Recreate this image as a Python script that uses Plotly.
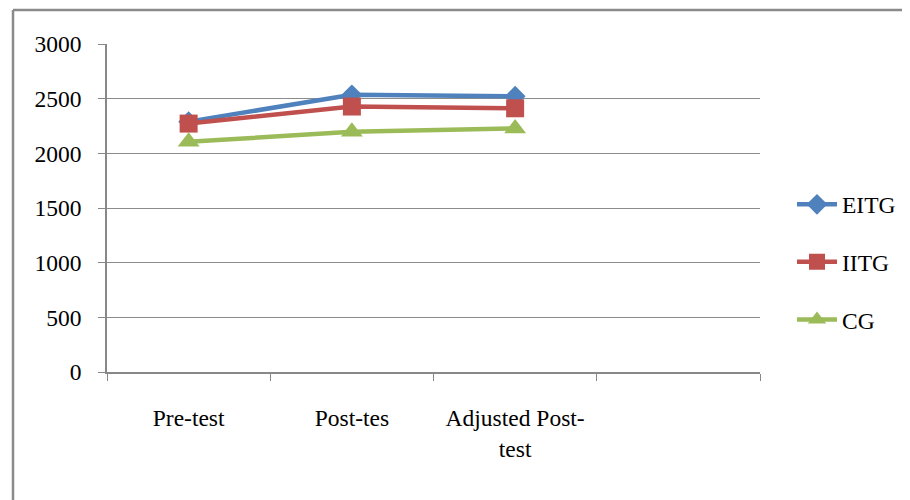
import plotly.graph_objects as go

categories = ["Pre-test", "Post-tes", "Adjusted Post-<br>test", " "]
eitg = [2290, 2535, 2522]
iitg = [2272, 2428, 2412]
cg = [2105, 2198, 2228]
y_ticks = [0, 500, 1000, 1500, 2000, 2500, 3000]

# page body has an 8px margin, so figure coords = page coords - 8
OFF = 8
W, H = 910, 500
L, T = 107 - OFF, 44 - OFF
pw, ph = 653, 328
R = W - L - pw
B = H - T - ph

def px(x):
    return (x - OFF - L) / pw

def py(y):
    return (T + ph - (y - OFF)) / ph

font = dict(family="Liberation Serif, Times New Roman, serif", size=23.5, color="#000000")

fig = go.Figure()
series = [
    ("EITG", eitg, "#4F81BD", "diamond", 16),
    ("IITG", iitg, "#C0504D", "square", 18),
    ("CG", cg, "#9BBB59", "triangle-up", 19),
]
for name, vals, col, sym, sz in series:
    fig.add_trace(go.Scatter(
        x=categories[:len(vals)], y=vals, name=name, mode="lines+markers",
        line=dict(color=col, width=4.5),
        marker=dict(symbol=sym, size=sz, color=col),
        legendgroup=name,
    ))

fig.update_layout(
    width=W, height=H,
    margin=dict(l=L, r=R, t=T, b=B, pad=0),
    paper_bgcolor="white", plot_bgcolor="white",
    font=font,
    showlegend=True,
    legend=dict(x=px(792), y=py(262), xanchor="left", yanchor="middle",
                traceorder="grouped", tracegroupgap=24,
                font=font, itemwidth=40, bgcolor="rgba(0,0,0,0)"),
    xaxis=dict(
        type="category", categoryorder="array", categoryarray=categories,
        range=[-0.5, 3.5], tickson="boundaries", ticks="outside", ticklen=7,
        tickcolor="#888888", showline=True, linecolor="#888888", linewidth=1.5,
        showgrid=False, tickfont=font, ticklabelstandoff=24,
    ),
    yaxis=dict(
        range=[0, 3000], tickvals=y_ticks, ticks="outside", ticklen=7,
        tickcolor="#888888", showline=True, linecolor="#888888", linewidth=1.5,
        showgrid=True, gridcolor="#8c8c8c", gridwidth=1.2, zeroline=False,
        tickfont=font, ticklabelstandoff=12,
    ),
    shapes=[
        dict(type="line", xref="paper", yref="paper", x0=px(13), x1=px(920),
             y0=py(10), y1=py(10), line=dict(color="#8a8a8a", width=2.5)),
        dict(type="line", xref="paper", yref="paper", x0=px(13), x1=px(13),
             y0=py(10), y1=py(510), line=dict(color="#8a8a8a", width=2.5)),
    ],
)

fig.write_html("out.html")
